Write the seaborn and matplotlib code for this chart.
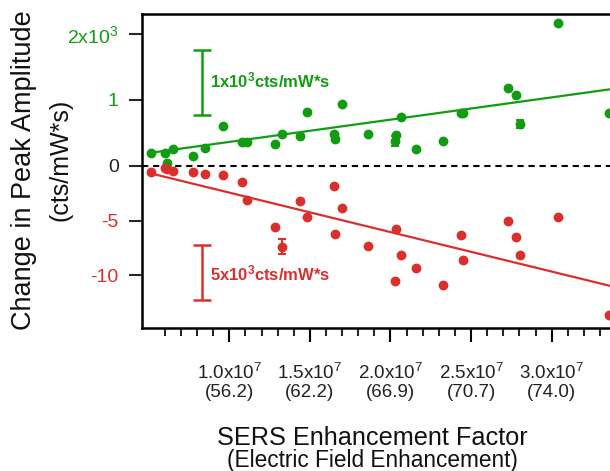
import numpy as np
import pandas as pd
import matplotlib
matplotlib.use("Agg")
import matplotlib.pyplot as plt
import seaborn as sns
from matplotlib.ticker import FixedLocator

# ---------------- data ----------------
# SERS enhancement factor, units of 1e7
sers_ef = [0.512, 0.601, 0.614, 0.653, 0.772, 0.849, 0.958, 1.079, 1.110, 1.284,
           1.327, 1.439, 1.482, 1.651, 1.655, 1.697, 1.860, 2.025, 2.034, 2.065,
           2.156, 2.323, 2.437, 2.447, 2.729, 2.779, 2.806, 3.037, 3.357]
# green series: change in peak amplitude, units of 1e3 cts/mW*s
green_change = [0.193, 0.198, 0.036, 0.249, 0.150, 0.269, 0.603, 0.360, 0.360, 0.334,
                0.479, 0.459, 0.812, 0.489, 0.406, 0.938, 0.489, 0.375, 0.474, 0.736,
                0.249, 0.371, 0.805, 0.796, 1.188, 1.070, 0.629, 2.164, 0.805]
green_err = [0, 0, 0, 0, 0, 0, 0, 0, 0, 0,
             0, 0, 0, 0, 0, 0, 0, 0.07, 0, 0,
             0, 0, 0, 0, 0, 0, 0.06, 0, 0]
# red series: change in peak amplitude, units of 1e3 cts/mW*s
red_change = [-0.62, -0.21, -0.30, -0.51, -0.55, -0.72, -0.83, -1.47, -3.17, -5.56,
              -7.37, -3.21, -4.71, -1.84, -6.20, -3.82, -7.35, -10.55, -5.81, -8.17,
              -9.32, -10.92, -6.36, -8.62, -5.07, -6.47, -8.10, -4.68, -13.61]
red_err = [0, 0, 0, 0, 0, 0, 0, 0, 0, 0,
           0.64, 0, 0, 0, 0, 0, 0, 0, 0, 0,
           0, 0, 0, 0, 0, 0, 0, 0, 0]
# linear fits shown in the picture (intercept, slope per 1e7)
green_fit = (0.0228, 0.3386)
red_fit = (1.145, -3.60)

# axis ticks and labels
x_major = [1.0, 1.5, 2.0, 2.5, 3.0]
x_major_labels = ["1.0x10$^{7}$\n(56.2)", "1.5x10$^{7}$\n(62.2)", "2.0x10$^{7}$\n(66.9)",
                  "2.5x10$^{7}$\n(70.7)", "3.0x10$^{7}$\n(74.0)"]
x_minor = [0.6, 0.7, 0.8, 0.9, 1.1, 1.2, 1.3, 1.4, 1.6, 1.7, 1.8, 1.9, 2.1, 2.2, 2.3,
           2.4, 2.6, 2.7, 2.8, 2.9, 3.1, 3.2, 3.3, 3.4]
green_ticks = [0, 1, 2]
green_tick_labels = ["0", "1", "2x10$^{3}$"]
red_ticks = [-10, -5]
red_tick_labels = ["-10", "-5"]

# scale bars
scale_x = 0.829
green_scale = (1.264, 1.0)     # centre, length (1x10^3)
red_scale = (-9.71, 5.0)       # centre, length (5x10^3)

GREEN = "#129c12"
RED = "#d9302c"

df = pd.DataFrame({"ef": sers_ef, "green": green_change, "gerr": green_err,
                   "red": red_change, "rerr": red_err})

# ---------------- style ----------------
sns.set_style("ticks")
plt.rcParams["font.family"] = ["Liberation Sans", "DejaVu Sans"]
plt.rcParams["mathtext.fontset"] = "custom"
plt.rcParams["mathtext.rm"] = "Liberation Sans"
plt.rcParams["mathtext.it"] = "Liberation Sans:italic"
plt.rcParams["mathtext.bf"] = "Liberation Sans:bold"

fig = plt.figure(figsize=(6.1, 4.71), dpi=100)
xlo, xhi = 0.4566, 3.45
ax = fig.add_axes([0.2323, 0.3036, (xhi - xlo) * 161.2 / 610, 0.6667])
ax.set_xlim(xlo, xhi)
g_lo, g_hi = -2.467, 2.306
ratio = 6.0
ax.set_ylim(g_lo, g_hi)
ax2 = ax.twinx()
ax2.set_ylim(g_lo * ratio, g_hi * ratio)
ax2.set_xlim(xlo, xhi)

# zero line
ax.axhline(0, color="black", lw=1.5, dashes=(3, 2.3), zorder=1)

# fits
xfit = np.array([min(sers_ef), xhi])
ax.plot(xfit, green_fit[0] + green_fit[1] * xfit, color=GREEN, lw=1.6, zorder=2)
ax2.plot(xfit, red_fit[0] + red_fit[1] * xfit, color=RED, lw=1.6, zorder=2)

# points
sns.scatterplot(data=df, x="ef", y="green", ax=ax, color=GREEN, s=50, marker="o",
                linewidth=0, legend=False, zorder=3, clip_on=False)
sns.scatterplot(data=df, x="ef", y="red", ax=ax2, color=RED, s=50, marker="o",
                linewidth=0, legend=False, zorder=3, clip_on=False)
gm = df["gerr"] > 0
ax.errorbar(df.loc[gm, "ef"], df.loc[gm, "green"], yerr=df.loc[gm, "gerr"], fmt="none",
            ecolor=GREEN, elinewidth=1.5, capsize=3, capthick=1.5, zorder=3)
rm = df["rerr"] > 0
ax2.errorbar(df.loc[rm, "ef"], df.loc[rm, "red"], yerr=df.loc[rm, "rerr"], fmt="none",
             ecolor=RED, elinewidth=1.5, capsize=3, capthick=1.5, zorder=3)

# scale bars
ax.errorbar([scale_x], [green_scale[0]], yerr=[green_scale[1] / 2], fmt="none",
            ecolor=GREEN, elinewidth=1.8, capsize=6.5, capthick=1.8)
ax2.errorbar([scale_x], [red_scale[0]], yerr=[red_scale[1] / 2], fmt="none",
             ecolor=RED, elinewidth=1.8, capsize=6.5, capthick=1.8)
ax.text(0.880, 1.191, "1x10$^{\\mathbf{3}}$cts/mW*s", color=GREEN, fontsize=12,
        fontweight="bold", ha="left", va="baseline")
ax2.text(0.880, -10.42, "5x10$^{\\mathbf{3}}$cts/mW*s", color=RED, fontsize=12,
         fontweight="bold", ha="left", va="baseline")

# axes styling
for side in ["left", "bottom", "top"]:
    ax.spines[side].set_linewidth(1.8)
    ax.spines[side].set_color("black")
ax.spines["right"].set_visible(False)
for s in ax2.spines.values():
    s.set_visible(False)

ax.xaxis.set_major_locator(FixedLocator(x_major))
ax.set_xticklabels(x_major_labels)
ax.xaxis.set_minor_locator(FixedLocator(x_minor))
ax.tick_params(axis="x", which="major", length=10, width=1.5, pad=15, labelsize=13.5,
               colors="black", labelcolor="#222222")
ax.tick_params(axis="x", which="minor", length=5.5, width=1.5)
for lab in ax.get_xticklabels():
    lab.set_multialignment("center")
    lab.set_linespacing(1.1)

ax.set_yticks(green_ticks)
ax.set_yticklabels(green_tick_labels)
ax.tick_params(axis="y", which="major", length=9.5, width=1.5, pad=7, labelsize=14)
for lab, c in zip(ax.get_yticklabels(), ["#222222", GREEN, GREEN]):
    lab.set_color(c)

ax2.yaxis.tick_left()
ax2.set_yticks(red_ticks)
ax2.set_yticklabels(red_tick_labels)
ax2.tick_params(axis="y", which="major", length=9.5, width=1.5, pad=7, labelsize=14,
                left=True, right=False, labelleft=True, labelright=False)
for lab in ax2.get_yticklabels():
    lab.set_color(RED)
ax2.tick_params(axis="x", bottom=False, labelbottom=False)

ax.set_xlabel("")
ax.set_ylabel("")
ax2.set_ylabel("")

# axis titles
fig.text(0.040, (471 - 170) / 471, "Change in Peak Amplitude", rotation=90,
         ha="center", va="center", fontsize=19.5, color="#111111")
fig.text(0.099, (471 - 160) / 471, "(cts/mW*s)", rotation=90,
         ha="center", va="center", fontsize=18, color="#111111")
fig.text(372 / 610, 26 / 471, "SERS Enhancement Factor", ha="center", va="baseline",
         fontsize=18.2, color="#111111")
fig.text(372 / 610, 4 / 471, "(Electric Field Enhancement)", ha="center",
         va="baseline", fontsize=16.3, color="#111111")

fig.savefig("out.png", dpi=100)
